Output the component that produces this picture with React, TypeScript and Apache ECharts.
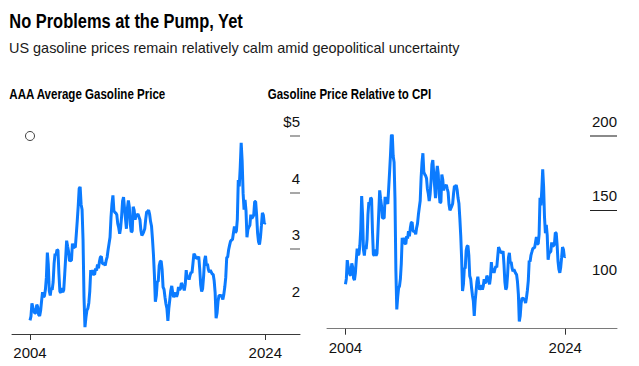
import React, { useEffect, useRef } from "react";
import * as echarts from "echarts";

// Monthly series, March 2004 through July 2024
const START_YEAR = 2004;
const START_MONTH = 3;

// AAA average gasoline price, $ per gallon
const gasPrice = [
  1.74, 1.81, 2.04, 1.97, 1.91, 1.87, 1.87, 2.02, 1.98, 1.84,
  1.82, 1.91, 2.08, 2.24, 2.16, 2.17, 2.29, 2.50, 2.94, 2.72, 2.26, 2.18,
  2.32, 2.28, 2.42, 2.75, 2.92, 2.89, 2.99, 2.98, 2.56, 2.25, 2.23, 2.31,
  2.24, 2.28, 2.56, 2.85, 3.15, 3.05, 2.96, 2.79, 2.80, 2.80, 3.10, 3.02,
  3.04, 3.03, 3.26, 3.50, 3.76, 4.07, 4.10, 3.79, 3.70, 3.17, 2.15, 1.62,
  1.79, 1.92, 1.95, 2.05, 2.26, 2.63, 2.54, 2.63, 2.56, 2.55, 2.66, 2.62,
  2.73, 2.66, 2.78, 2.86, 2.87, 2.75, 2.74, 2.75, 2.71, 2.80, 2.86, 2.99,
  3.10, 3.21, 3.56, 3.80, 3.95, 3.68, 3.65, 3.64, 3.61, 3.45, 3.38, 3.27,
  3.38, 3.58, 3.85, 3.92, 3.73, 3.54, 3.36, 3.72, 3.86, 3.75, 3.44, 3.30,
  3.32, 3.75, 3.69, 3.52, 3.60, 3.60, 3.62, 3.57, 3.52, 3.33, 3.24, 3.27,
  3.31, 3.36, 3.53, 3.66, 3.66, 3.69, 3.62, 3.49, 3.41, 3.18, 2.91, 2.55,
  2.07, 2.18, 2.43, 2.43, 2.71, 2.78, 2.79, 2.64, 2.33, 2.29, 2.15, 2.03,
  1.95, 1.73, 1.96, 2.11, 2.27, 2.35, 2.23, 2.15, 2.20, 2.23, 2.16, 2.21,
  2.33, 2.28, 2.30, 2.40, 2.37, 2.33, 2.27, 2.38, 2.63, 2.47, 2.53, 2.46,
  2.54, 2.59, 2.58, 2.75, 2.92, 2.89, 2.85, 2.84, 2.84, 2.87, 2.65, 2.37,
  2.25, 2.30, 2.51, 2.80, 2.88, 2.71, 2.74, 2.64, 2.59, 2.63, 2.59, 2.56,
  2.55, 2.44, 2.23, 1.78, 1.87, 2.08, 2.18, 2.18, 2.18, 2.16, 2.11, 2.20,
  2.33, 2.50, 2.85, 2.86, 2.99, 3.07, 3.14, 3.16, 3.17, 3.29, 3.40, 3.29,
  3.32, 3.52, 4.22, 4.11, 4.44, 4.88, 4.56, 3.99, 3.70, 3.87, 3.68, 3.21,
  3.35, 3.39, 3.42, 3.61, 3.54, 3.57, 3.60, 3.84, 3.84, 3.61, 3.29, 3.13,
  3.08, 3.21, 3.42, 3.64, 3.60, 3.45, 3.47,
];

// Gasoline price relative to CPI (index)
const relativeToCpi = [
  100.0, 103.7, 116.2, 111.8, 108.6, 106.3, 106.0, 114.0, 111.6, 104.1,
  102.8, 107.3, 115.9, 124.0, 119.7, 120.2, 126.2, 137.1, 159.3, 147.1, 123.2, 119.3,
  126.0, 123.6, 130.4, 147.0, 155.3, 153.4, 158.2, 157.4, 135.9, 120.1, 119.2, 123.3,
  119.2, 120.7, 134.2, 148.5, 163.2, 157.6, 153.0, 144.5, 144.6, 144.4, 158.8, 154.9,
  155.1, 154.1, 164.5, 175.5, 187.0, 200.3, 200.7, 186.3, 182.1, 157.6, 109.0, 83.0,
  91.3, 97.4, 98.7, 103.6, 113.8, 131.3, 127.0, 131.3, 127.6, 127.0, 132.4, 130.7,
  135.7, 132.2, 137.6, 141.3, 141.7, 135.9, 135.4, 135.7, 133.6, 137.9, 140.8, 146.9,
  151.6, 156.2, 171.6, 182.0, 188.2, 175.6, 174.0, 173.1, 171.4, 164.1, 160.9, 156.0,
  160.6, 169.3, 180.8, 183.5, 174.8, 166.1, 157.9, 173.9, 179.6, 174.6, 160.9, 154.8,
  155.3, 173.9, 170.7, 163.1, 166.5, 166.0, 166.9, 164.4, 161.9, 153.6, 149.7, 151.1,
  152.4, 154.1, 160.9, 166.2, 165.7, 166.8, 163.6, 158.0, 154.3, 144.3, 132.7, 117.0,
  95.4, 100.0, 110.9, 110.6, 122.7, 125.5, 125.9, 119.3, 105.5, 103.7, 97.6, 92.4,
  88.6, 78.6, 88.7, 95.0, 101.8, 105.0, 99.8, 96.2, 98.1, 99.4, 96.4, 98.6,
  103.4, 100.8, 101.6, 105.7, 104.3, 102.4, 99.9, 104.4, 114.8, 107.8, 110.5, 107.5,
  110.4, 112.0, 111.3, 118.2, 125.0, 123.5, 121.8, 121.3, 121.2, 122.2, 113.3, 101.6,
  96.3, 98.0, 106.3, 118.0, 121.1, 114.0, 115.0, 110.8, 108.6, 110.1, 108.5, 107.3,
  106.4, 101.6, 93.1, 74.8, 78.5, 86.9, 90.6, 90.3, 90.2, 89.3, 87.3, 90.9,
  95.9, 102.4, 115.9, 115.3, 119.6, 121.7, 123.9, 124.4, 124.5, 128.1, 131.8, 127.1,
  127.2, 133.6, 158.1, 153.1, 163.6, 177.4, 165.8, 145.1, 134.3, 139.9, 133.1, 116.5,
  120.6, 121.4, 122.0, 128.2, 125.4, 126.0, 126.8, 134.7, 134.4, 126.4, 115.4, 109.9,
  107.6, 111.4, 118.0, 125.0, 123.4, 118.3, 118.8,
];

const leftLabelValues = [2, 3, 4, 5];
const leftTickValues = [3, 4, 5];
const rightLabelValues = [100, 150, 200];
const rightGrayTick = [200];
const rightDarkTick = [150];

const TITLE = "No Problems at the Pump, Yet";
const SUBTITLE = "US gasoline prices remain relatively calm amid geopolitical uncertainty";
const LEFT_TITLE = "AAA Average Gasoline Price";
const RIGHT_TITLE = "Gasoline Price Relative to CPI";

const toX = (i: number) => START_YEAR + (START_MONTH - 1 + i) / 12;

const SANS = '"Liberation Sans", Arial, sans-serif';

function measure(text: string, font: string): number {
  const c = document.createElement("canvas");
  const ctx = c.getContext("2d");
  if (!ctx) return 0;
  ctx.font = font;
  return ctx.measureText(text).width;
}

function fitText(text: string, x: number, y: number, size: number, bold: boolean, width: number, fill: string) {
  const font = `${bold ? "bold " : ""}${size}px ${SANS}`;
  const w = measure(text, font);
  const sx = w > 0 ? width / w : 1;
  return {
    type: "text",
    x,
    y,
    scaleX: sx,
    style: {
      text,
      fontSize: size,
      fontWeight: bold ? "bold" : "normal",
      fontFamily: SANS,
      fill,
      verticalAlign: "top",
    },
  };
}

export default function App() {
  const ref = useRef<HTMLDivElement>(null);

  useEffect(() => {
    if (!ref.current) return;
    const chart = echarts.init(ref.current, null, { renderer: "svg" });

    const leftData = gasPrice.map((v, i) => [toX(i), v]);
    const rightData = relativeToCpi.map((v, i) => [toX(i), v]);
    const firstX = toX(0);
    const lastX = toX(gasPrice.length - 1);
    const xTicks = [firstX, lastX];

    const blue = "#0b7bff";

    const xAxisCommon = (color: string) => ({
      type: "value",
      axisLine: { show: true, lineStyle: { color, width: 1 } },
      axisTick: { show: true, customValues: xTicks, length: 6, lineStyle: { color: "#333" } },
      axisLabel: {
        customValues: xTicks,
        formatter: (v: number) => String(Math.floor(v + 1e-6)),
        fontSize: 15,
        fontFamily: SANS,
        color: "#111",
        margin: 11,
      },
      splitLine: { show: false },
    });

    const option: any = {
      animation: false,
      backgroundColor: "#fff",
      graphic: [
        fitText(TITLE, 9.3, 10.8, 20, true, 234, "#000"),
        fitText(SUBTITLE, 9, 40.4, 15, false, 451, "#1a1a1a"),
        fitText(LEFT_TITLE, 9.3, 86.4, 15, true, 157, "#000"),
        fitText(RIGHT_TITLE, 267.7, 86.4, 15, true, 163.5, "#000"),
      ],
      grid: [
        { left: 12, right: 339, top: 136, bottom: 32 },
        { left: 327, right: 22, top: 135.7, bottom: 37.3 },
      ],
      xAxis: [
        { ...xAxisCommon("#3a3a3a"), gridIndex: 0, min: 2002.611, max: 2027.5 },
        { ...xAxisCommon("#7a7a7a"), gridIndex: 1, min: 2002.46, max: 2029.29 },
      ],
      yAxis: [
        {
          type: "value", gridIndex: 0, position: "right", min: 1.5, max: 5,
          axisLine: { show: false },
          axisTick: { show: true, inside: true, length: 10, customValues: leftTickValues, lineStyle: { color: "#8a8a8a", width: 1.5 } },
          axisLabel: {
            inside: true, margin: 0, customValues: leftLabelValues,
            formatter: (v: number) => (v === 5 ? "$5" : String(v)),
            fontSize: 15, fontFamily: SANS, color: "#111",
            verticalAlign: "bottom", padding: [0, 0, 7, 0],
          },
          splitLine: { show: false },
        },
        {
          type: "value", gridIndex: 1, position: "right", min: 70, max: 200,
          axisLine: { show: false },
          axisTick: { show: true, inside: true, length: 27, customValues: rightGrayTick, lineStyle: { color: "#8a8a8a", width: 2 } },
          axisLabel: {
            inside: true, margin: 0, customValues: rightLabelValues,
            fontSize: 15, fontFamily: SANS, color: "#111",
            verticalAlign: "bottom", padding: [0, 0, 7, 0],
          },
          splitLine: { show: false },
        },
        {
          type: "value", gridIndex: 1, position: "right", min: 70, max: 200,
          axisLine: { show: false },
          axisTick: { show: true, inside: true, length: 27, customValues: rightDarkTick, lineStyle: { color: "#222", width: 1 } },
          axisLabel: { show: false },
          splitLine: { show: false },
        },
      ],
      series: [
        {
          type: "line", xAxisIndex: 0, yAxisIndex: 0, data: leftData,
          showSymbol: false, lineStyle: { color: blue, width: 3 }, z: 3,
        },
        {
          type: "scatter", xAxisIndex: 0, yAxisIndex: 0, data: [[firstX, 5]],
          symbol: "circle", symbolSize: 9,
          itemStyle: { color: "#fff", borderColor: "#111", borderWidth: 1 },
        },
        {
          type: "line", xAxisIndex: 1, yAxisIndex: 1, data: rightData,
          showSymbol: false, lineStyle: { color: blue, width: 3 }, z: 3,
        },
      ],
    };

    chart.setOption(option);
    return () => chart.dispose();
  }, []);

  return <div ref={ref} style={{ width: 639, height: 366, position: "absolute", left: 0, top: 0 }} />;
}
